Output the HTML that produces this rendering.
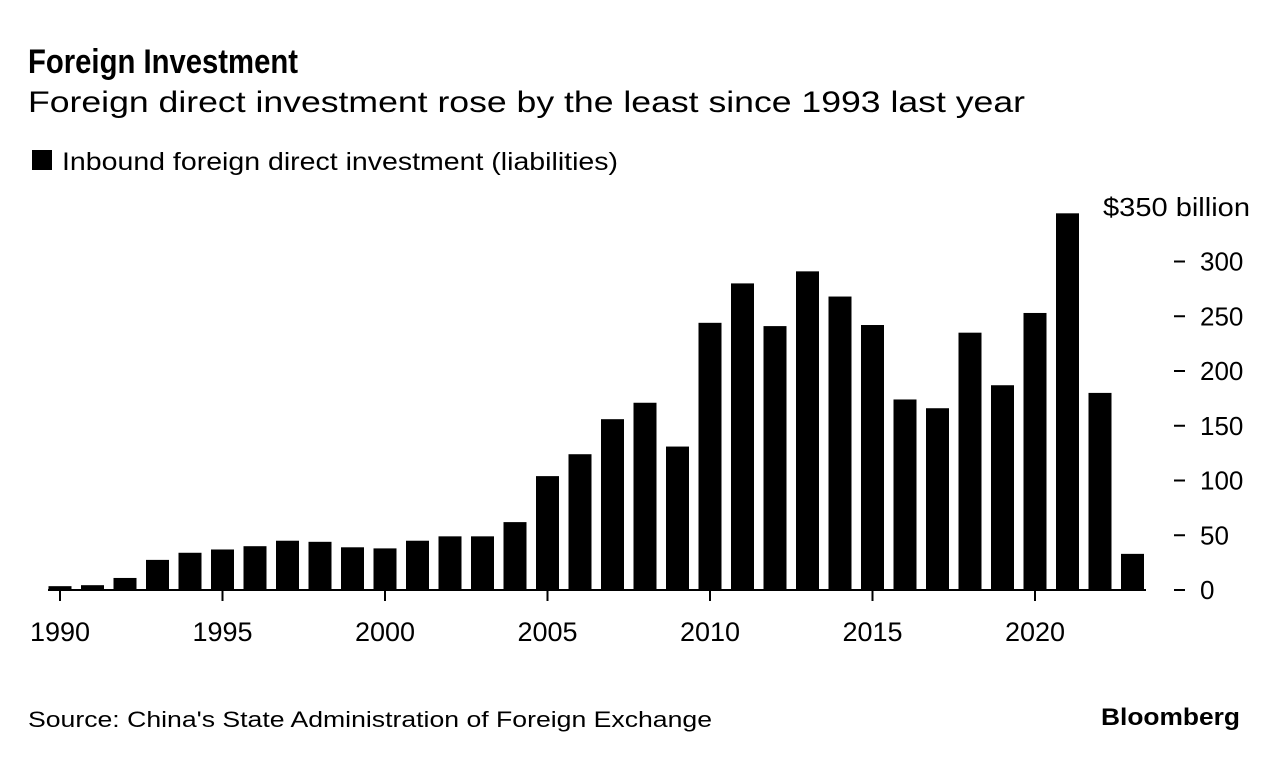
<!DOCTYPE html>
<html><head><meta charset="utf-8"><style>
html,body{margin:0;padding:0;background:#fff}
svg{display:block;font-family:"Liberation Sans",Arial,sans-serif}
</style></head><body>
<svg id="chart" width="1279" height="760" viewBox="0 0 1279 760">
<text x="28" y="73" font-size="34" font-weight="bold" textLength="270" lengthAdjust="spacingAndGlyphs">Foreign Investment</text>
<text x="28" y="112" font-size="30" textLength="997" lengthAdjust="spacingAndGlyphs">Foreign direct investment rose by the least since 1993 last year</text>
<rect x="32" y="150" width="20" height="20" fill="#000"/>
<text x="62" y="170" font-size="25" textLength="556" lengthAdjust="spacingAndGlyphs">Inbound foreign direct investment (liabilities)</text>
<g id="bars"></g>
<g id="yaxis"></g>
<g id="xaxis"></g>
<text x="28" y="727" font-size="22" textLength="684" lengthAdjust="spacingAndGlyphs">Source: China's State Administration of Foreign Exchange</text>
<text x="1101" y="725" font-size="24" font-weight="bold" textLength="139" lengthAdjust="spacingAndGlyphs">Bloomberg</text>
</svg>
<script>
const years = [1990,1991,1992,1993,1994,1995,1996,1997,1998,1999,2000,2001,2002,2003,2004,2005,2006,2007,2008,2009,2010,2011,2012,2013,2014,2015,2016,2017,2018,2019,2020,2021,2022,2023];
const values = [3.5,4.4,11,27.5,34,37,40,45,44,39,38,45,49,49,62,104,124,156,171,131,244,280,241,291,268,242,174,166,235,187,253,344,180,33];
const yTicks = [0,50,100,150,200,250,300];
const xTicks = [1990,1995,2000,2005,2010,2015,2020];
const NS='http://www.w3.org/2000/svg';
const xs = yr => 60 + (yr-1990)*32.5;
const ys = v => 590 - v*(54.75/50);
function mk(tag, attrs, parent){const e=document.createElementNS(NS,tag);for(const k in attrs)e.setAttribute(k,attrs[k]);parent.appendChild(e);return e;}
const bars=document.getElementById('bars'), ya=document.getElementById('yaxis'), xa=document.getElementById('xaxis');
years.forEach((yr,i)=>{
  const r=mk('rect',{x:xs(yr)-11.5,y:ys(values[i]),width:23,height:590-ys(values[i]),fill:'#000'},bars);
  
  
});
const base=mk('line',{x1:48,x2:1146,y1:590,y2:590,stroke:'#000','stroke-width':2},xa);


xTicks.forEach(t=>{
  const l=mk('line',{x1:xs(t),x2:xs(t),y1:590,y2:601,stroke:'#000','stroke-width':2},xa);
  
  
  const tx=mk('text',{x:xs(t),y:641,'font-size':27,'text-anchor':'middle'},xa);
  tx.textContent=t;
  
  
});
yTicks.forEach(t=>{
  const l=mk('line',{x1:1174,x2:1185,y1:ys(t),y2:ys(t),stroke:'#000','stroke-width':2},ya);
  
  
  const tx=mk('text',{x:1200,y:ys(t)+9,'font-size':26},ya);
  tx.textContent=t;
  
  
});
const topLabel=mk('text',{x:1103,y:ys(350)+9,'font-size':26,textLength:147,lengthAdjust:'spacingAndGlyphs'},ya);
topLabel.textContent='$350 billion';


</script>
</body></html>
